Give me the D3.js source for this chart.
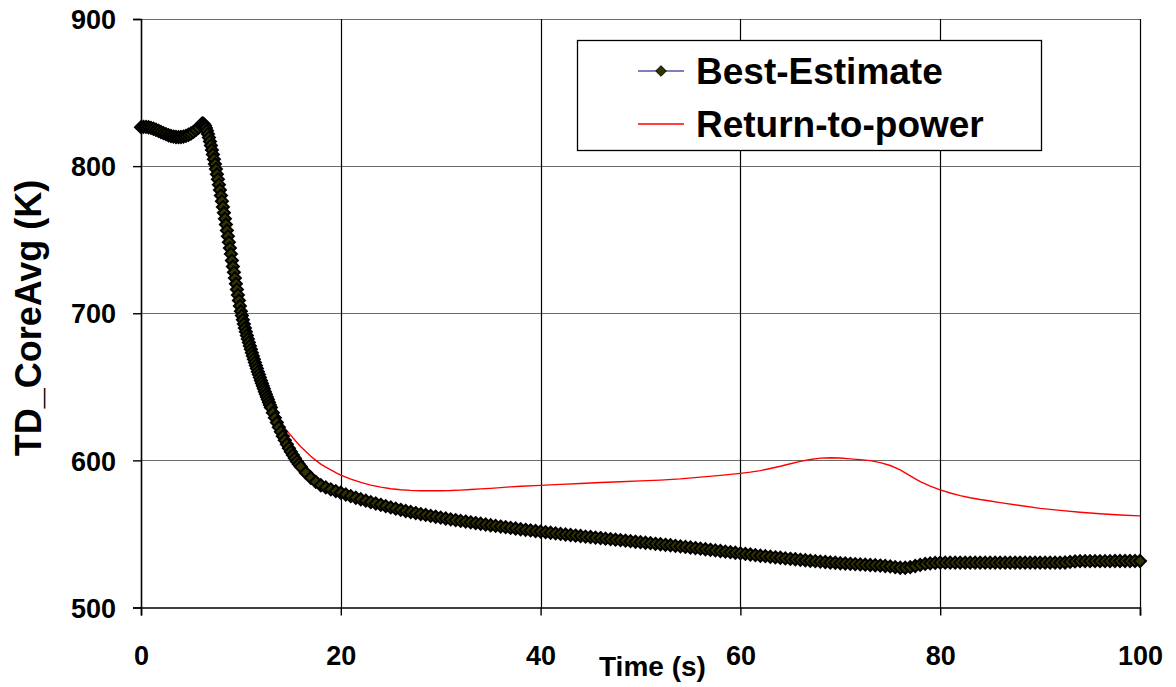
<!DOCTYPE html>
<html>
<head>
<meta charset="utf-8">
<script src="https://cdn.jsdelivr.net/npm/d3@7"></script>
<style>
  html, body { margin: 0; padding: 0; background: #ffffff; }
  svg { display: block; font-family: "Liberation Sans", Arial, sans-serif; font-weight: bold; }
</style>
</head>
<body>
<svg id="chart" width="1176" height="687"></svg>
<script>
// ---- Axis setup ----
const xTicks = [0, 20, 40, 60, 80, 100];
const yTicks = [500, 600, 700, 800, 900];
const xLabel = "Time (s)";
const yLabel = "TD_CoreAvg (K)";
const seriesNames = ["Best-Estimate", "Return-to-power"];

// ---- Best-Estimate core average temperature (K), sampled at varying time steps ----
// 0 – 6 s, every 0.25 s
const bestEstimateEarly = [
  826.5, 826.7, 826.7, 826.4, 826.0, 825.4, 824.7, 824.0, 823.2, 822.4,
  821.7, 821.0, 820.5, 820.1, 819.8, 819.7, 819.8, 820.1, 820.6, 821.3,
  822.2, 823.3, 824.6, 826.1, 827.8
];
// 6.1 – 13.0 s, every 0.1 s
const bestEstimateDrop = [
  828.8, 829.0, 828.5, 827.4, 825.9, 824.0, 821.8, 819.4, 816.8, 814.0,
  811.0, 807.9, 804.7, 801.4, 798.0, 794.5, 791.0, 787.4, 783.8, 780.0,
  776.2, 772.3, 768.3, 764.3, 760.3, 756.3, 752.3, 748.3, 744.3, 740.3,
  735.8, 731.8, 727.8, 723.9, 720.0, 716.2, 712.4, 708.7, 705.0, 701.4,
  698.4, 695.5, 692.7, 690.0, 687.4, 684.9, 682.5, 680.1, 677.8, 675.5,
  673.2, 671.0, 668.8, 666.6, 664.5, 662.4, 660.3, 658.3, 656.3, 654.3,
  652.4, 650.5, 648.6, 646.7, 644.9, 643.1, 641.3, 639.5, 637.7, 635.9
];
// 13.2 – 16.0 s, every 0.2 s
const bestEstimateKnee = [
  632.4, 629.0, 625.7, 622.5, 619.4, 616.4, 613.6, 610.9, 608.3, 605.9,
  603.6, 601.4, 599.3, 597.4, 595.6
];
// 16.5 – 100 s, every 0.5 s
const bestEstimateLate = [
  591.6, 588.2, 585.4, 583.1, 581.6, 580.3, 579.1, 578.0,
  576.8, 575.7, 574.6, 573.6, 572.6, 571.6, 570.7, 569.8,
  568.9, 568.0, 567.2, 566.4, 565.6, 564.9, 564.2, 563.5,
  562.9, 562.3, 561.7, 561.1, 560.5, 559.9, 559.4, 558.9,
  558.4, 557.9, 557.4, 556.9, 556.4, 555.9, 555.5, 555.0,
  554.6, 554.1, 553.7, 553.2, 552.8, 552.4, 552.0, 551.6,
  551.2, 550.8, 550.4, 550.0, 549.6, 549.3, 548.9, 548.6,
  548.2, 547.9, 547.5, 547.2, 546.8, 546.5, 546.1, 545.8,
  545.4, 545.1, 544.7, 544.4, 544.0, 543.7, 543.3, 543.0,
  542.6, 542.3, 541.9, 541.5, 541.2, 540.8, 540.4, 540.0,
  539.6, 539.2, 538.8, 538.4, 538.0, 537.6, 537.2, 536.8,
  536.4, 536.0, 535.6, 535.2, 534.9, 534.5, 534.1, 533.8,
  533.4, 533.1, 532.8, 532.4, 532.1, 531.8, 531.5, 531.2,
  530.9, 530.6, 530.4, 530.1, 529.9, 529.7, 529.5, 529.3,
  529.1, 528.9, 528.7, 528.5, 528.2, 527.9, 527.4, 527.0,
  527.0, 527.4, 528.2, 529.0, 529.6, 530.0, 530.3, 530.5,
  530.5, 530.5, 530.5, 530.5, 530.5, 530.5, 530.5, 530.5,
  530.5, 530.5, 530.5, 530.5, 530.5, 530.5, 530.5, 530.5,
  530.5, 530.5, 530.5, 530.5, 530.5, 530.5, 530.5, 530.5,
  530.6, 531.0, 531.3, 531.5, 531.5, 531.5, 531.5, 531.5,
  531.5, 531.5, 531.6, 531.6, 531.6, 531.6, 531.6, 531.6
];

// ---- Return-to-power case: time (s) and temperature (K) ----
const returnToPowerTime = [
  12, 13, 13.5, 14, 14.5, 15, 15.5, 16, 16.5, 17, 17.5, 18, 18.5, 19, 19.5, 20,
  21, 22, 23, 24, 25, 26, 27, 28, 30, 31, 32, 33, 34, 35, 36, 37, 38, 40,
  42, 44, 46, 48, 50, 52, 54, 56, 58, 60, 61, 62, 63, 64, 65, 66, 67, 68, 69, 70,
  71, 72, 73, 74, 75, 76, 77, 78, 79, 80, 81, 82, 83, 84, 85, 86, 88, 90, 92, 94, 96, 98, 100
];
const returnToPowerTemp = [
  654.0, 635.0, 629.5, 625.0, 621.0, 617.0, 613.0, 609.3, 606.0, 602.8, 600.0, 597.5, 595.4, 593.5, 591.7, 590.0,
  587.2, 585.0, 583.2, 581.8, 580.7, 580.0, 579.6, 579.4, 579.4, 579.5, 579.8, 580.2, 580.6, 581.0, 581.5, 582.0, 582.4, 583.0,
  583.7, 584.3, 585.0, 585.5, 586.1, 586.6, 587.4, 588.6, 589.8, 591.2, 592.0, 593.0, 594.5, 596.0, 597.7, 599.3, 600.6, 601.5, 601.8, 601.6,
  601.0, 600.5, 599.8, 598.5, 596.5, 593.5, 589.5, 585.5, 582.5, 580.0, 577.8, 576.0, 574.6, 573.4, 572.4, 571.3, 569.3, 567.4, 566.0, 564.7, 563.7, 562.9, 562.3
];

// Sampling grids for the Best-Estimate segments
const sampleTimes = (start, step, n) => d3.range(n).map(i => +(start + i * step).toFixed(2));
const bestEstimate = []
  .concat(sampleTimes(0, 0.25, bestEstimateEarly.length).map((t, i) => ({ t, v: bestEstimateEarly[i] })))
  .concat(sampleTimes(6.1, 0.1, bestEstimateDrop.length).map((t, i) => ({ t, v: bestEstimateDrop[i] })))
  .concat(sampleTimes(13.2, 0.2, bestEstimateKnee.length).map((t, i) => ({ t, v: bestEstimateKnee[i] })))
  .concat(sampleTimes(16.5, 0.5, bestEstimateLate.length).map((t, i) => ({ t, v: bestEstimateLate[i] })));
const returnToPower = returnToPowerTime.map((t, i) => ({ t, v: returnToPowerTemp[i] }));

// ---- Layout ----
const svg = d3.select("#chart");
const plot = { left: 141, right: 1140, top: 19, bottom: 607.5 };

const x = d3.scaleLinear().domain([0, 100]).range([plot.left, plot.right]);
const y = d3.scaleLinear().domain([500, 900]).range([plot.bottom, plot.top]);

svg.append("rect").attr("width", 1176).attr("height", 687).attr("fill", "#ffffff");

// Horizontal gridlines (grey)
svg.append("g")
  .selectAll("line")
  .data(yTicks.filter(d => d !== 500))
  .join("line")
  .attr("x1", plot.left).attr("x2", plot.right)
  .attr("y1", d => Math.round(y(d)) + 0.5).attr("y2", d => Math.round(y(d)) + 0.5)
  .attr("stroke", "#6b6b6b").attr("stroke-width", 1.2);

// Vertical gridlines (black)
svg.append("g")
  .selectAll("line")
  .data(xTicks.filter(d => d !== 0))
  .join("line")
  .attr("x1", d => Math.round(x(d)) + 0.5).attr("x2", d => Math.round(x(d)) + 0.5)
  .attr("y1", plot.top).attr("y2", plot.bottom)
  .attr("stroke", "#000000").attr("stroke-width", 1.2);

// Axes
const xAxis = d3.axisBottom(x).tickValues(xTicks).tickSize(8).tickPadding(30).tickFormat(d3.format("d"));
const yAxis = d3.axisLeft(y).tickValues(yTicks).tickSize(8).tickPadding(17).tickFormat(d3.format("d"));

const gx = svg.append("g").attr("transform", `translate(0,${plot.bottom})`).call(xAxis);
const gy = svg.append("g").attr("transform", `translate(${plot.left},0)`).call(yAxis);

[gx, gy].forEach(g => {
  g.select(".domain").attr("stroke", "#000").attr("stroke-width", 1.6);
  g.selectAll(".tick line").attr("stroke", "#000").attr("stroke-width", 1.4);
  g.selectAll(".tick text")
    .attr("fill", "#000")
    .style("font-family", '"Liberation Sans", Arial, sans-serif')
    .style("font-weight", "bold")
    .style("font-size", "27px");
});
gy.selectAll(".tick text").attr("dy", "0.36em");

// Axis titles
svg.append("text")
  .attr("x", 599).attr("y", 676)
  .attr("font-size", 28)
  .text(xLabel);

svg.append("text")
  .attr("transform", `translate(41,318) rotate(-90)`)
  .attr("text-anchor", "middle")
  .attr("font-size", 36)
  .text(yLabel);

// ---- Series ----
const line = d3.line().x(d => x(d.t)).y(d => y(d.v));

// Return-to-power (red line)
svg.append("path")
  .datum(returnToPower)
  .attr("d", line)
  .attr("fill", "none")
  .attr("stroke", "#ff0000")
  .attr("stroke-width", 1.4);

// Best-Estimate (navy line with olive diamonds)
svg.append("path")
  .datum(bestEstimate)
  .attr("d", line)
  .attr("fill", "none")
  .attr("stroke", "#000080")
  .attr("stroke-width", 1);

const diamond = r => `M0,${-r}L${r},0L0,${r}L${-r},0Z`;
svg.append("g")
  .selectAll("path")
  .data(bestEstimate)
  .join("path")
  .attr("transform", d => `translate(${x(d.t)},${y(d.v)})`)
  .attr("d", diamond(6))
  .attr("fill", "#333300")
  .attr("stroke", "#000000")
  .attr("stroke-width", 2);

// ---- Legend ----
const legend = svg.append("g");
legend.append("rect")
  .attr("x", 577.5).attr("y", 40.5).attr("width", 464).attr("height", 110)
  .attr("fill", "#ffffff").attr("stroke", "#000").attr("stroke-width", 1.3);

const legendRows = [
  { name: seriesNames[0], color: "#000080", marker: true, y: 71 },
  { name: seriesNames[1], color: "#ff0000", marker: false, y: 124 }
];
legendRows.forEach(r => {
  legend.append("line")
    .attr("x1", 638).attr("x2", 684).attr("y1", r.y).attr("y2", r.y)
    .attr("stroke", r.color).attr("stroke-width", r.marker ? 1.2 : 1.4);
  if (r.marker) {
    legend.append("path")
      .attr("transform", `translate(661,${r.y})`)
      .attr("d", diamond(5.3))
      .attr("fill", "#333300").attr("stroke", "#000").attr("stroke-width", 1);
  }
  legend.append("text")
    .attr("x", 696).attr("y", r.y + 12.5)
    .attr("font-size", 37)
    .text(r.name);
});
</script>
</body>
</html>
